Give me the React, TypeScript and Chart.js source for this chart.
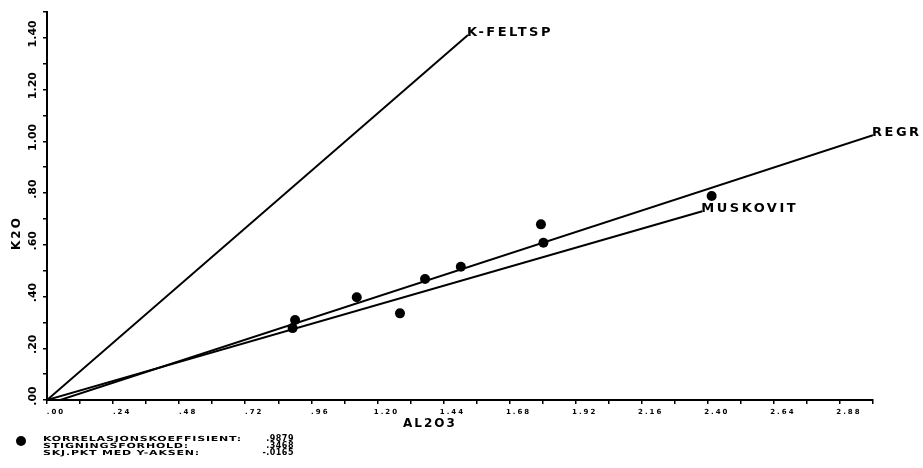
import React, { useEffect, useRef } from 'react';
import { Chart, registerables } from 'chart.js';

Chart.register(...registerables);

// ---- data ----
const xTickLabels = ['.00', '.24', '.48', '.72', '.96', '1.20', '1.44', '1.68', '1.92', '2.16', '2.40', '2.64', '2.88'];
const yTickLabels = ['.00', '.20', '.40', '.60', '.80', '1.00', '1.20', '1.40'];

const sampleAl2O3 = [0.901, 0.892, 1.125, 1.282, 1.373, 1.503, 1.794, 1.803, 2.414];
const sampleK2O = [0.309, 0.278, 0.397, 0.335, 0.468, 0.515, 0.679, 0.608, 0.789];

const lineNames = ['K-FELTSP', 'REGR', 'MUSKOVIT'];
const kFeltspX = [0, 1.529];
const kFeltspY = [0, 1.411];
const regrX = [0, 3.0];
const regrY = [-0.0165, 1.024];
const muskovitX = [0, 2.38];
const muskovitY = [0, 0.73];

const statLabels = ['KORRELASJONSKOEFFISIENT:', 'STIGNINGSFORHOLD:', 'SKJ.PKT MED Y-AKSEN:'];
const statValues = ['.9879', '.3468', '-.0165'];

const xTitle = 'AL2O3';
const yTitle = 'K2O';

const toPts = (xs: number[], ys: number[]) => xs.map((x, i) => ({ x, y: ys[i] }));

const textPlugin = {
  id: 'plotterText',
  afterDraw(chart: any) {
    const ctx = chart.ctx as CanvasRenderingContext2D;
    const xs = chart.scales.x;
    const ys = chart.scales.y;
    ctx.save();
    ctx.fillStyle = '#000';

    // x tick labels
    ctx.font = 'bold 7px "DejaVu Sans"';
    (ctx as any).letterSpacing = '2px';
    ctx.textAlign = 'center';
    ctx.textBaseline = 'middle';
    xTickLabels.forEach((lab) => {
      const px = xs.getPixelForValue(parseFloat(lab));
      ctx.fillText(lab, px + 9, xs.top + 12);
    });

    // y tick labels (rotated)
    ctx.font = 'bold 11px "DejaVu Sans"';
    (ctx as any).letterSpacing = '0px';
    yTickLabels.forEach((lab) => {
      const py = ys.getPixelForValue(parseFloat(lab));
      ctx.save();
      ctx.translate(ys.right - 14, py - 4);
      ctx.rotate(-Math.PI / 2);
      ctx.fillText(lab, 0, 0);
      ctx.restore();
    });

    // axis titles
    ctx.font = 'bold 12px "DejaVu Sans"';
    (ctx as any).letterSpacing = '2px';
    ctx.fillText(xTitle, 430, 424);
    ctx.save();
    ctx.translate(17, 233);
    ctx.rotate(-Math.PI / 2);
    ctx.fillText(yTitle, 0, 0);
    ctx.restore();

    // line labels at the line ends
    ctx.font = 'bold 13px "DejaVu Sans"';
    (ctx as any).letterSpacing = '2.5px';
    ctx.textAlign = 'left';
    ctx.textBaseline = 'alphabetic';
    lineNames.forEach((name, i) => {
      const meta = chart.getDatasetMeta(i);
      const last = meta.data[meta.data.length - 1];
      ctx.fillText(name, last.x - 1, last.y + 1);
    });

    // footer statistics
    ctx.beginPath();
    ctx.arc(21, 441, 5, 0, Math.PI * 2);
    ctx.fill();
    ctx.font = 'bold 7px "DejaVu Sans"';
    (ctx as any).letterSpacing = '0.5px';
    const w0 = ctx.measureText(statLabels[0]).width;
    const sx = 199 / w0;
    const baselines = [441, 448, 455];
    statLabels.forEach((lab, i) => {
      ctx.save();
      ctx.translate(43, baselines[i]);
      ctx.scale(sx, 1);
      ctx.textAlign = 'left';
      ctx.fillText(lab, 0, 0);
      ctx.restore();
    });
    ctx.font = 'bold 8px "DejaVu Sans"';
    (ctx as any).letterSpacing = '0.5px';
    ctx.textAlign = 'right';
    statValues.forEach((v, i) => {
      ctx.fillText(v, 294, baselines[i]);
    });
    ctx.restore();
  },
};

export default function App() {
  const ref = useRef<HTMLCanvasElement | null>(null);

  useEffect(() => {
    document.body.style.margin = '0';
    const canvas = ref.current!;
    const lineStyle = {
      showLine: true,
      borderColor: '#000',
      borderWidth: 2,
      pointRadius: 0,
      fill: false,
    };
    const chart = new Chart(canvas, {
      type: 'scatter',
      data: {
        datasets: [
          { label: lineNames[0], data: toPts(kFeltspX, kFeltspY), ...lineStyle },
          { label: lineNames[1], data: toPts(regrX, regrY), ...lineStyle },
          { label: lineNames[2], data: toPts(muskovitX, muskovitY), ...lineStyle },
          {
            label: 'samples',
            data: toPts(sampleAl2O3, sampleK2O),
            pointRadius: 5,
            pointBackgroundColor: '#000',
            pointBorderColor: '#000',
            pointBorderWidth: 0,
            showLine: false,
          } as any,
        ],
      },
      options: {
        responsive: false,
        animation: false,
        devicePixelRatio: 1,
        layout: { padding: { top: 12, right: 50, left: 0, bottom: 0 } },
        plugins: { legend: { display: false }, tooltip: { enabled: false } },
        scales: {
          x: {
            type: 'linear',
            min: 0,
            max: 3,
            ticks: { stepSize: 0.12, display: false },
            grid: { drawOnChartArea: false, drawTicks: true, tickLength: 4, color: '#000', lineWidth: 1.5 },
            border: { display: true, color: '#000', width: 2 },
            afterFit: (s: any) => { s.height = 68; },
          },
          y: {
            type: 'linear',
            min: 0,
            max: 1.5,
            ticks: { stepSize: 0.1, display: false },
            grid: { drawOnChartArea: false, drawTicks: true, tickLength: 4, color: '#000', lineWidth: 1.5 },
            border: { display: true, color: '#000', width: 2 },
            afterFit: (s: any) => { s.width = 47; },
          },
        },
      },
      plugins: [textPlugin],
    });
    return () => chart.destroy();
  }, []);

  return <canvas ref={ref} width={923} height={468} style={{ display: 'block', width: 923, height: 468 }} />;
}
